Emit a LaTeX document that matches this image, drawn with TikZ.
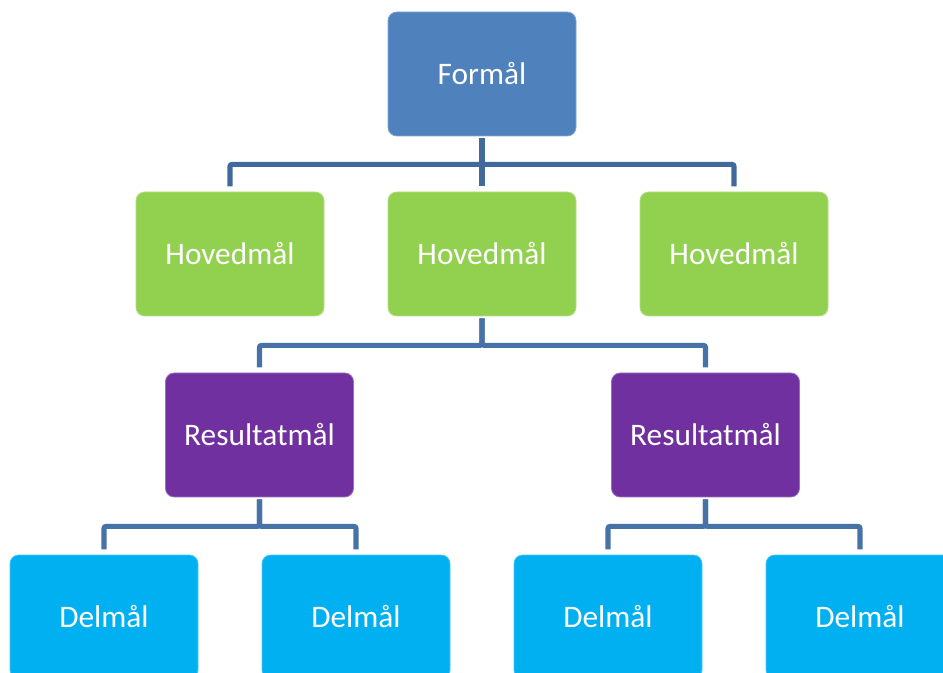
\documentclass[tikz,border=0pt]{standalone}
\usepackage{fontspec}
\setmainfont{Carlito}
\definecolor{cTop}{HTML}{4F81BD}
\definecolor{cHov}{HTML}{92D050}
\definecolor{cRes}{HTML}{7030A0}
\definecolor{cDel}{HTML}{00B0F0}
\definecolor{cLine}{HTML}{4672A8}
\definecolor{cLineTop}{HTML}{41699C}
\tikzset{
  box/.style={rectangle, rounded corners=6.5pt, minimum width=141pt, minimum height=93pt,
    inner sep=0pt, text=white, font=\fontsize{23.5}{28}\selectfont, line width=0.6pt},
  topbox/.style={box, fill=cTop, draw=cTop!70!white},
  hovbox/.style={box, fill=cHov, draw=cHov!70!white},
  resbox/.style={box, fill=cRes, draw=cRes!70!white},
  delbox/.style={box, fill=cDel, draw=cDel!70!white},
  conn/.style={draw=cLine, line width=3.8pt, rounded corners=1.5pt, shorten <=1.5pt, shorten >=4pt},
}
\begin{document}
\begin{tikzpicture}[x=0.75pt, y=-0.75pt]
\clip (0,0) rectangle (943,673);
\fill[white] (0,0) rectangle (943,673);
\node[topbox] (f) at (482,74) {Formål};
\node[hovbox] (h1) at (230,254) {Hovedmål};
\node[hovbox] (h2) at (482,254) {Hovedmål};
\node[hovbox] (h3) at (734,254) {Hovedmål};
\node[resbox] (r1) at (259.5,435) {Resultatmål};
\node[resbox] (r2) at (705.5,435) {Resultatmål};
\node[delbox] (d1) at (104,617) {Delmål};
\node[delbox] (d2) at (356,617) {Delmål};
\node[delbox] (d3) at (608,617) {Delmål};
\node[delbox] (d4) at (860,617) {Delmål};
% connectors
\draw[conn, draw=cLineTop] (f.south) -- ++(0,28) -| (h1.north);
\draw[conn, draw=cLineTop] (f.south) -- ++(0,28) -| (h3.north);
\draw[conn, draw=cLineTop] (f.south) -- (h2.north);
\draw[conn] (h2.south) -- ++(0,29) -| (r1.north);
\draw[conn] (h2.south) -- ++(0,29) -| (r2.north);
\draw[conn] (r1.south) -- ++(0,29) -| (d1.north);
\draw[conn] (r1.south) -- ++(0,29) -| (d2.north);
\draw[conn] (r2.south) -- ++(0,29) -| (d3.north);
\draw[conn] (r2.south) -- ++(0,29) -| (d4.north);
\end{tikzpicture}
\end{document}
